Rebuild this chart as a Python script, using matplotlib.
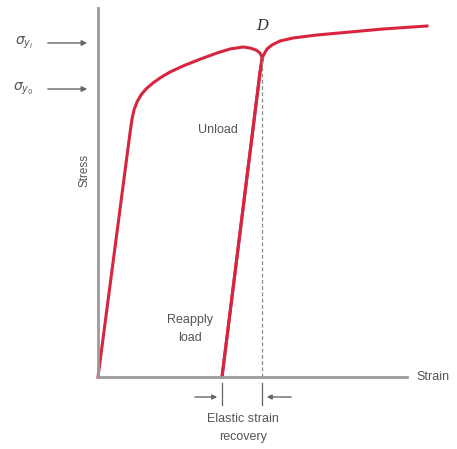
import matplotlib.pyplot as plt

plt.rcParams['font.family'] = ['Liberation Sans', 'DejaVu Sans']

# strain / stress (arbitrary units)
load_strain = [0.00, 0.16, 0.32, 0.34, 0.36, 0.39, 0.43, 0.48, 0.55, 0.62, 0.72, 0.85,
               1.00, 1.19, 1.32, 1.45, 1.52, 1.58, 1.62, 1.64]
load_stress = [0.00, 1.22, 2.44, 2.58, 2.67, 2.75, 2.82, 2.88, 2.94, 2.99, 3.05, 3.11,
               3.17, 3.24, 3.28, 3.30, 3.29, 3.27, 3.24, 3.20]

unload_strain = [1.64, 1.24]
unload_stress = [3.20, 0.00]

reload_strain = [1.24, 1.62, 1.65, 1.69, 1.74, 1.82, 1.95, 2.19, 2.52, 2.85, 3.29]
reload_stress = [0.00, 3.05, 3.21, 3.28, 3.32, 3.36, 3.39, 3.42, 3.45, 3.48, 3.51]

yield_levels = [3.34, 2.88]
yield_labels = [r'$\sigma_{y_i}$', r'$\sigma_{y_0}$']

red = '#d8253f'
gray = '#9a9a9a'
txt = '#555555'

fig = plt.figure(figsize=(4.57, 4.49), dpi=100)
ax = fig.add_axes([98 / 457, 72 / 449, 340 / 457, 369 / 449])
ax.set_xlim(0, 3.40)
ax.set_ylim(0, 3.69)

for s in ['top', 'right']:
    ax.spines[s].set_visible(False)
for s in ['left', 'bottom']:
    ax.spines[s].set_color(gray)
    ax.spines[s].set_linewidth(2)
ax.spines['bottom'].set_bounds(0, 3.09)
ax.spines['left'].set_bounds(0, 3.69)
ax.set_xticks([])
ax.set_yticks([])
ax.patch.set_visible(False)

ax.plot(load_strain, load_stress, color=red, lw=2.2, solid_joinstyle='round', clip_on=False)
ax.plot(unload_strain, unload_stress, color=red, lw=2.2, clip_on=False)
ax.plot(reload_strain, reload_stress, color=red, lw=2.2, solid_joinstyle='round', clip_on=False)

# dashed line down from D
ax.plot([unload_strain[0], unload_strain[0]], [0, unload_stress[0]],
        color='#888888', lw=0.9, ls=(0, (3, 2)))

ax.text(unload_strain[0], 3.44, 'D', ha='center', va='bottom', fontsize=11,
        family='DejaVu Serif', style='italic', color='#333333')

# yield stress markers on the left
for lev, lab in zip(yield_levels, yield_labels):
    ax.annotate('', xy=(-0.08, lev), xytext=(-0.53, lev),
                arrowprops=dict(arrowstyle='-|>', color='#666666', lw=1, mutation_scale=8),
                annotation_clip=False)
    ax.text(-0.65, lev, lab, ha='right', va='center', fontsize=10, color=txt)

ax.text(-0.13, 2.07, 'Stress', rotation=90, ha='center', va='center', fontsize=8.5, color=txt)
ax.text(3.18, 0, 'Strain', ha='left', va='center', fontsize=9, color=txt)
ax.text(1.20, 2.47, 'Unload', ha='center', va='center', fontsize=9, color=txt)
ax.text(0.92, 0.48, 'Reapply\nload', ha='center', va='center', fontsize=9, color=txt,
        linespacing=1.6)

# elastic strain recovery indicator
y_arr = -0.20
for xe in [unload_strain[1], unload_strain[0]]:
    ax.plot([xe, xe], [-0.06, -0.28], color='#666666', lw=0.9, clip_on=False)
ax.annotate('', xy=(unload_strain[1] - 0.02, y_arr), xytext=(unload_strain[1] - 0.30, y_arr),
            arrowprops=dict(arrowstyle='-|>', color='#666666', lw=1, mutation_scale=7),
            annotation_clip=False)
ax.annotate('', xy=(unload_strain[0] + 0.02, y_arr), xytext=(unload_strain[0] + 0.32, y_arr),
            arrowprops=dict(arrowstyle='-|>', color='#666666', lw=1, mutation_scale=7),
            annotation_clip=False)
ax.text(1.45, -0.51, 'Elastic strain\nrecovery', ha='center', va='center', fontsize=9,
        color=txt, linespacing=1.75)

fig.savefig('out.png', dpi=100)
